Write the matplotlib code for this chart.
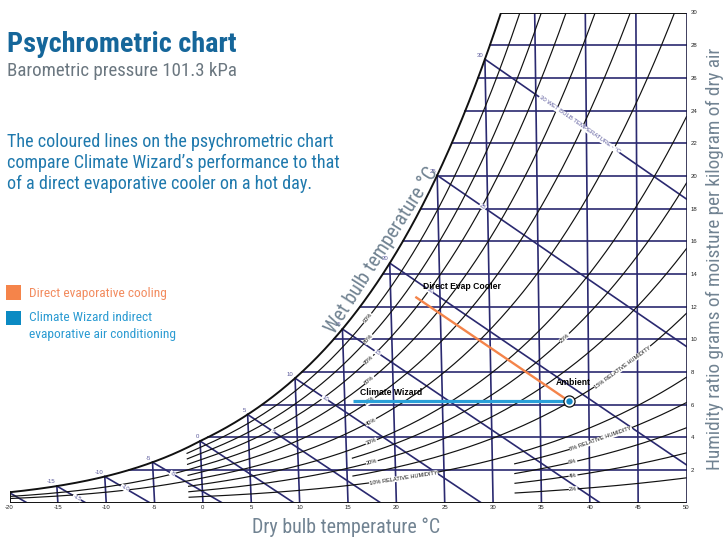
import numpy as np
import matplotlib
matplotlib.use("Agg")
import matplotlib.pyplot as plt
from matplotlib.patches import Rectangle

# ---------------- data ----------------
pressure_kpa = 101.325
dry_bulb_ticks = [-20, -15, -10, -5, 0, 5, 10, 15, 20, 25, 30, 35, 40, 45, 50]
humidity_ticks = [2, 4, 6, 8, 10, 12, 14, 16, 18, 20, 22, 24, 26, 28, 30]
dry_bulb_lines = [-15, -10, -5, 0, 5, 10, 15, 20, 25, 30, 35, 40, 45]
humidity_lines = [2, 4, 6, 8, 10, 12, 14, 16, 18, 20, 22, 24, 26, 28]
wet_bulb_lines = [-20, -15, -10, -5, 0, 5, 10, 15, 20, 25, 30]
wet_bulb_sat_labels = [-15, -10, -5, 0, 5, 10, 15, 20, 25, 30]
wet_bulb_mid_labels = [-15, -10, -5, 5, 10, 15, 20, 25]

rh_main = [10, 20, 30, 50, 70, 80, 90]      # start near -1.4 C
rh_full = [40, 60]                          # start at -20 C
rh_mid = [15, 25]                           # start near 15.6 C
rh_low = [2, 4, 6, 8]                       # start near 32.3 C
rh_main_start, rh_mid_start, rh_low_start = -1.4, 15.6, 32.3

rh_labels = [  # (rh %, dry bulb position, text)
    (90, 17.6, "90%"), (80, 17.6, "80%"), (70, 17.6, "70%"), (60, 17.6, "60%"),
    (50, 17.6, "50%"), (40, 17.6, "40%"), (30, 17.6, "30%"), (20, 17.6, "20%"),
    (10, 20.8, "10% RELATIVE HUMIDITY"), (25, 37.6, "25%"),
    (15, 43.5, "15% RELATIVE HUMIDITY"), (8, 41.2, "8% RELATIVE HUMIDITY"),
    (6, 38.3, "6%"), (4, 38.3, "4%"), (2, 38.3, "2%"),
]

ambient = (38.0, 6.2)              # dry bulb C, g/kg
direct_evap_end = (22.5, 12.6)
climate_wizard_end = (15.8, 6.2)

# ---------------- psychrometrics ----------------
def pws(T):
    T = np.asarray(T, float)
    return np.where(T >= 0, 0.61094 * np.exp(17.625 * T / (T + 243.04)),
                    0.61115 * np.exp(22.452 * T / (272.55 + T)))

def w_rh(T, rh):
    p = rh * pws(T)
    return 622.0 * p / (pressure_kpa - p)

def w_wb(T, twb):
    ws = float(w_rh(twb, 1.0)) / 1000.0
    if twb >= 0:
        w = ((2501 - 2.326 * twb) * ws - 1.006 * (T - twb)) / (2501 + 1.86 * T - 4.186 * twb)
    else:
        w = ((2830 - 0.24 * twb) * ws - 1.006 * (T - twb)) / (2830 + 1.86 * T - 2.1 * twb)
    return w * 1000.0

_tg = np.linspace(-20, 40, 6001)
_wg = w_rh(_tg, 1.0)
def tsat(W):
    return np.interp(W, _wg, _tg)

def proj(T, W):
    # chart projection: dry-bulb lines fan slightly
    return np.asarray(T) - 0.00155 * (50 - np.asarray(T)) * np.asarray(W)

def clip_top(T, W, wmax=30.0):
    idx = np.where(W > wmax)[0]
    if len(idx):
        i = idx[0]
        if i == 0:
            return T[:0], W[:0]
        t = T[i - 1] + (wmax - W[i - 1]) * (T[i] - T[i - 1]) / (W[i] - W[i - 1])
        T = np.append(T[:i], t)
        W = np.append(W[:i], wmax)
    return T, W

def clip_bottom(T, W):
    idx = np.where(W < 0)[0]
    if len(idx):
        i = idx[0]
        t = T[i - 1] + (0 - W[i - 1]) * (T[i] - T[i - 1]) / (W[i] - W[i - 1])
        T = np.append(T[:i], t)
        W = np.append(W[:i], 0.0)
    return T, W

# ---------------- figure ----------------
FW, FH = 725, 540
fig = plt.figure(figsize=(FW / 100, FH / 100), dpi=100)
X0, X1, Y0, Y1 = 9.5, 686.5, 502.7, 12.5
ax = fig.add_axes([X0 / FW, 1 - Y0 / FH, (X1 - X0) / FW, (Y0 - Y1) / FH])
ax.set_xlim(-20, 50)
ax.set_ylim(0, 30)
for s in ax.spines.values():
    s.set_visible(False)
ax.patch.set_alpha(0)

def fx(px): return px / FW
def fy(py): return 1 - py / FH

NAVY = "#2a2970"
NAVY_LBL = "#5b5a9c"
BLACK = "#111111"
chart_font = ["Liberation Sans", "DejaVu Sans"]
narrow = ["Liberation Sans Narrow", "Roboto Condensed", "Roboto", "DejaVu Sans"]

# ticks
ax.set_xticks(dry_bulb_ticks)
ax.set_xticklabels([str(v) for v in dry_bulb_ticks], fontsize=4.3, family=chart_font, color="#222222")
ax.yaxis.tick_right()
ax.set_yticks(humidity_ticks)
ax.set_yticklabels([str(v) for v in humidity_ticks], fontsize=4.3, family=chart_font, color="#222222")
ax.tick_params(axis="x", length=0, pad=2.0)
ax.tick_params(axis="y", length=0, pad=3.0)

GRID_LW = 1.2
# dry bulb lines
for T in dry_bulb_lines:
    wt = min(float(w_rh(T, 1.0)), 30.0)
    ax.plot([proj(T, 0), proj(T, wt)], [0, wt], color=NAVY, lw=GRID_LW, zorder=2)

# humidity lines
for W in humidity_lines:
    t0 = float(tsat(W))
    ax.plot([proj(t0, W), proj(50, W)], [W, W], color=NAVY, lw=GRID_LW, zorder=2)

# wet bulb lines
for twb in wet_bulb_lines:
    T = np.linspace(twb, 50, 800)
    W = w_wb(T, twb)
    T, W = clip_bottom(T, W)
    ax.plot(proj(T, W), W, color=NAVY, lw=GRID_LW, zorder=2)

# RH curves
def rh_curve(rh, t_start):
    T = np.linspace(t_start, 50, 3000)
    W = w_rh(T, rh / 100.0)
    return clip_top(T, W)

RH_LW = 0.85
for group, start in ((rh_main, rh_main_start), (rh_full, -20),
                     (rh_mid, rh_mid_start), (rh_low, rh_low_start)):
    for rh in group:
        T, W = rh_curve(rh, start)
        ax.plot(proj(T, W), W, color=BLACK, lw=RH_LW, zorder=3)

# saturation curve and border
t30 = float(tsat(30.0))
Ts = np.linspace(-20, t30, 600)
Ws = w_rh(Ts, 1.0)
ax.plot(proj(Ts, Ws), Ws, color=BLACK, lw=1.4, zorder=4, solid_capstyle="round")
ax.plot([proj(t30, 30), 50], [30, 30], color=BLACK, lw=1.4, zorder=4)
ax.plot([-20, -20], [0, float(w_rh(-20, 1.0))], color=BLACK, lw=1.4, zorder=4)
ax.plot([-20, 50], [0, 0], color=BLACK, lw=1.4, zorder=4)
ax.plot([50, 50], [0, 30], color="#1c1b40", lw=1.9, zorder=4)

def disp_angle(p1, p2):
    a = ax.transData.transform(p1)
    b = ax.transData.transform(p2)
    return np.degrees(np.arctan2(b[1] - a[1], b[0] - a[0]))

# wet bulb labels at saturation
for twb in wet_bulb_sat_labels:
    wsat = float(w_rh(twb, 1.0))
    ax.annotate(str(twb), xy=(proj(twb, wsat), wsat), xytext=(-1.0, 1.2),
                textcoords="offset points", ha="right", va="bottom",
                fontsize=4.3, family=chart_font, color=NAVY_LBL, zorder=6)

# wet bulb labels along lines
for twb in wet_bulb_mid_labels:
    T = twb + 2.0 + 0.1 * max(twb, 0)
    W = w_wb(T, twb)
    ang = disp_angle((proj(T - 0.3, w_wb(T - 0.3, twb)), w_wb(T - 0.3, twb)),
                     (proj(T + 0.3, w_wb(T + 0.3, twb)), w_wb(T + 0.3, twb)))
    ax.text(proj(T, W), W, str(twb), rotation=ang, rotation_mode="anchor",
            ha="center", va="center", fontsize=4.3, family=chart_font, color=NAVY_LBL,
            zorder=6, bbox=dict(facecolor="white", edgecolor="none", pad=0.2))

T = 39.3
W = w_wb(T, 30)
ang = disp_angle((proj(T - 0.3, w_wb(T - 0.3, 30)), w_wb(T - 0.3, 30)),
                 (proj(T + 0.3, w_wb(T + 0.3, 30)), w_wb(T + 0.3, 30)))
ax.text(proj(T, W), W, "30 WET BULB TEMPERATURE - \u00b0C", rotation=ang, rotation_mode="anchor",
        ha="center", va="center", fontsize=4.3, family=chart_font, color=NAVY_LBL,
        zorder=6, bbox=dict(facecolor="white", edgecolor="none", pad=0.2))

# RH labels
for rh, T, txt in rh_labels:
    W = float(w_rh(T, rh / 100))
    ang = disp_angle((proj(T - 0.3, w_rh(T - 0.3, rh / 100)), w_rh(T - 0.3, rh / 100)),
                     (proj(T + 0.3, w_rh(T + 0.3, rh / 100)), w_rh(T + 0.3, rh / 100)))
    ax.text(proj(T, W), W, txt, rotation=ang, rotation_mode="anchor",
            ha="center", va="center", fontsize=4.1, family=chart_font, color=BLACK,
            zorder=6, bbox=dict(facecolor="white", edgecolor="none", pad=0.2))

# process lines
ORANGE = "#f4844a"
CW_BLUE = "#2aa0d8"
ax.plot([proj(*direct_evap_end), proj(*ambient)], [direct_evap_end[1], ambient[1]],
        color=ORANGE, lw=1.7, zorder=7, solid_capstyle="butt")
ax.plot([proj(*climate_wizard_end), proj(*ambient)], [climate_wizard_end[1], ambient[1]],
        color=CW_BLUE, lw=2.3, zorder=7, solid_capstyle="butt")
ax.plot([proj(*ambient)], [ambient[1]], "o", ms=8, mfc="white", mec="#111111", mew=0.9, zorder=8)
ax.plot([proj(*ambient)], [ambient[1]], "o", ms=4.6, mfc="#1488c8", mec="none", zorder=9)

fig.text(fx(423), fy(289), "Direct Evap Cooler", fontsize=6.2, weight="bold",
         family=chart_font, color="black", va="baseline", ha="left")
fig.text(fx(360), fy(395), "Climate Wizard", fontsize=6.2, weight="bold",
         family=chart_font, color="black", va="baseline", ha="left")
fig.text(fx(556), fy(385), "Ambient", fontsize=6.2, weight="bold",
         family=chart_font, color="black", va="baseline", ha="left")

# ---------------- titles and legend ----------------
fig.text(fx(7), fy(52), "Psychrometric chart", fontsize=20.3, weight="bold",
         family=narrow, color="#15669a", va="baseline", ha="left")
fig.text(fx(7), fy(76), "Barometric pressure 101.3 kPa", fontsize=13.6,
         family=narrow, color="#6b7780", va="baseline", ha="left")
body = ["The coloured lines on the psychrometric chart",
        "compare Climate Wizard\u2019s performance to that",
        "of a direct evaporative cooler on a hot day."]
for i, line in enumerate(body):
    fig.text(fx(7), fy(147 + 21 * i), line, fontsize=13.1, family=narrow,
             color="#1f79ad", va="baseline", ha="left")

fig.add_artist(Rectangle((fx(6), fy(299.5)), (21 - 6) / FW, 14.5 / FH,
                         transform=fig.transFigure, facecolor="#f5844a", edgecolor="none"))
fig.add_artist(Rectangle((fx(6), fy(325)), (21 - 6) / FW, 14.5 / FH,
                         transform=fig.transFigure, facecolor="#0b8ac3", edgecolor="none"))
fig.text(fx(29), fy(297), "Direct evaporative cooling", fontsize=9.6, family=narrow,
         color="#f28b5e", va="baseline", ha="left")
fig.text(fx(29), fy(321), "Climate Wizard indirect", fontsize=9.6, family=narrow,
         color="#2b9bd2", va="baseline", ha="left")
fig.text(fx(29), fy(338), "evaporative air conditioning", fontsize=9.6, family=narrow,
         color="#2b9bd2", va="baseline", ha="left")

# axis titles
AX_GRAY = "#718392"
fig.text(fx(346), fy(527), "Dry bulb temperature \u00b0C", fontsize=14.4, family=narrow,
         color=AX_GRAY, ha="center", va="center")
fig.text(fx(382), fy(250), "Wet bulb temperature \u00b0C", fontsize=14.4, family=narrow,
         color=AX_GRAY, ha="center", va="center", rotation=57.5, rotation_mode="anchor")
fig.text(fx(715), fy(259), "Humidity ratio grams of moisture per kilogram of dry air",
         fontsize=13.9, family=narrow, color=AX_GRAY, ha="center", va="center", rotation=90)

fig.savefig("out.png", dpi=100)
